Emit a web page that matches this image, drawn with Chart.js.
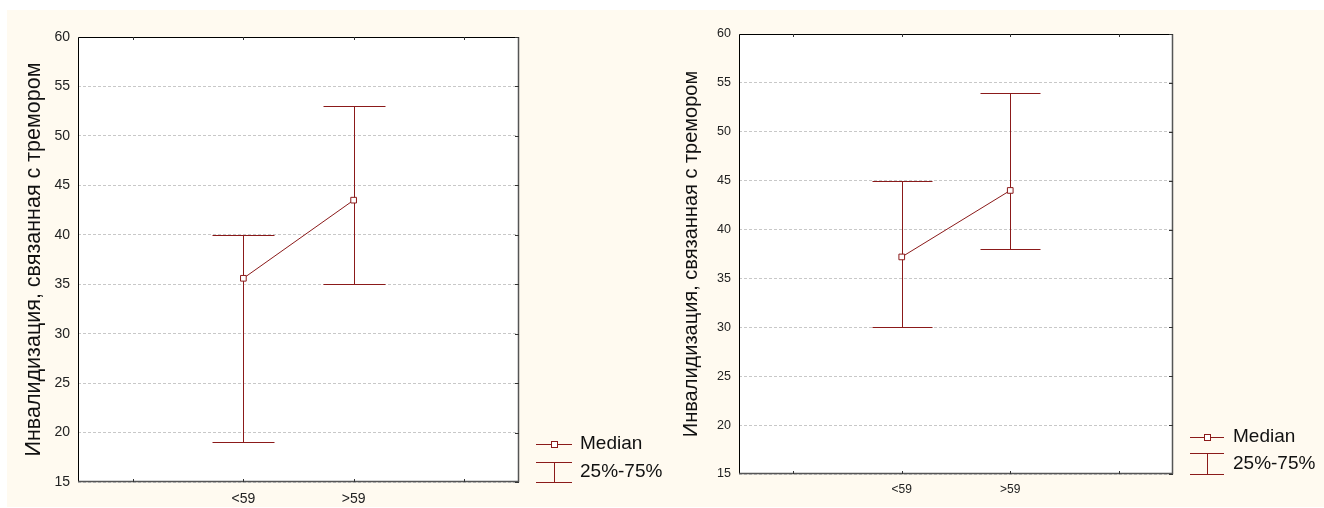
<!DOCTYPE html>
<html>
<head>
<meta charset="utf-8">
<script src="https://cdn.jsdelivr.net/npm/chart.js@4.4.0/dist/chart.umd.min.js"></script>
<style>
  body { margin: 0; background: #fff; width: 1324px; height: 508px; overflow: hidden; position: relative; }
  #bg { position: absolute; left: 7px; top: 10px; width: 1317px; height: 497px; background: #fffaf0; }
  canvas { position: absolute; top: 0; }
</style>
</head>
<body>
<div id="bg"></div>
<canvas id="c1" width="672" height="508" style="left:0"></canvas>
<canvas id="c2" width="652" height="508" style="left:672px"></canvas>
<script>
// categories (empty ones pad the axis like the original)
const groups = ["", "<59", ">59", ""];
const yTitle = "Инвалидизация, связанная с тремором";

// left chart
const medianA = [null, 35.6, 43.5, null];
const q25A = [null, 19, 35, null];
const q75A = [null, 40, 53, null];

// right chart
const medianB = [null, 37.2, 44, null];
const q25B = [null, 30, 38, null];
const q75B = [null, 45, 54, null];

const RED = "#8b1a1a";
const FONT = "'Liberation Sans', Arial, sans-serif";
Chart.defaults.font.family = FONT;

// white plot area
const plotBg = {
  id: "plotBg",
  beforeDraw(chart) {
    const { ctx, chartArea: a } = chart;
    ctx.save();
    ctx.fillStyle = "#fff";
    ctx.fillRect(a.left, a.top, a.right - a.left, a.bottom - a.top);
    ctx.restore();
  }
};

// frame, inward tick marks, quartile whiskers
const whiskers = {
  id: "whiskers",
  beforeDatasetsDraw(chart, args, opts) {
    const { ctx, chartArea: a, scales: { x, y } } = chart;
    ctx.save();
    // frame
    ctx.lineWidth = 1;
    ctx.strokeStyle = "#000";
    ctx.beginPath();
    ctx.moveTo(a.left + 0.5, a.bottom);
    ctx.lineTo(a.left + 0.5, a.top + 0.5);
    ctx.lineTo(a.right, a.top + 0.5);
    ctx.stroke();
    ctx.strokeStyle = "#555";
    ctx.lineWidth = 1.5;
    ctx.beginPath();
    ctx.moveTo(a.right - 0.5, a.top);
    ctx.lineTo(a.right - 0.5, a.bottom - 0.5);
    ctx.lineTo(a.left, a.bottom - 0.5);
    ctx.stroke();
    // tick marks
    ctx.lineWidth = 1;
    ctx.strokeStyle = "#333";
    ctx.beginPath();
    x.ticks.forEach((t, i) => {
      const px = Math.round(x.getPixelForTick(i)) + 0.5;
      ctx.moveTo(px, a.top); ctx.lineTo(px, a.top + 3);
      ctx.moveTo(px, a.bottom); ctx.lineTo(px, a.bottom - 3);
    });
    y.ticks.forEach((t, i) => {
      const py = Math.round(y.getPixelForTick(i)) + 0.5;
      ctx.moveTo(a.right, py); ctx.lineTo(a.right - 4, py);
    });
    ctx.stroke();
    // whiskers
    ctx.strokeStyle = RED;
    ctx.lineWidth = 1;
    opts.low.forEach((lo, i) => {
      const hi = opts.high[i];
      if (lo == null || hi == null) return;
      const px = Math.round(x.getPixelForValue(i)) + 0.5;
      const pLo = Math.round(y.getPixelForValue(lo)) + 0.5;
      const pHi = Math.round(y.getPixelForValue(hi)) + 0.5;
      ctx.beginPath();
      ctx.moveTo(px, pLo); ctx.lineTo(px, pHi);
      ctx.moveTo(px - opts.cap, pLo); ctx.lineTo(px + opts.cap, pLo);
      ctx.moveTo(px - opts.cap, pHi); ctx.lineTo(px + opts.cap, pHi);
      ctx.stroke();
    });
    ctx.restore();
  }
};

// legend drawn like the original (line + marker, whisker symbol)
const sideLegend = {
  id: "sideLegend",
  afterDraw(chart, args, o) {
    const ctx = chart.ctx;
    ctx.save();
    ctx.strokeStyle = RED;
    ctx.lineWidth = 1;
    const cx = o.x + o.w / 2;
    ctx.beginPath();
    ctx.moveTo(o.x, o.y1 + 0.5); ctx.lineTo(o.x + o.w, o.y1 + 0.5);
    ctx.stroke();
    ctx.fillStyle = "#fff";
    ctx.fillRect(cx - 3, o.y1 - 2.5, 6, 6);
    ctx.strokeRect(cx - 2.5, o.y1 - 2.5, 6, 6);
    ctx.beginPath();
    ctx.moveTo(o.x, o.y2a + 0.5); ctx.lineTo(o.x + o.w, o.y2a + 0.5);
    ctx.moveTo(o.x, o.y2b + 0.5); ctx.lineTo(o.x + o.w, o.y2b + 0.5);
    ctx.moveTo(cx + 0.5, o.y2a); ctx.lineTo(cx + 0.5, o.y2b);
    ctx.stroke();
    ctx.fillStyle = "#111";
    ctx.font = o.size + "px " + FONT;
    ctx.textBaseline = "middle";
    ctx.fillText("Median", o.tx, o.y1);
    ctx.fillText("25%-75%", o.tx, (o.y2a + o.y2b) / 2);
    ctx.restore();
  }
};

function makeChart(id, median, low, high, s) {
  return new Chart(document.getElementById(id), {
    type: "line",
    data: {
      labels: groups,
      datasets: [{
        data: median,
        borderColor: RED,
        borderWidth: 1,
        pointStyle: "rect",
        pointRadius: 4,
        pointBackgroundColor: "#fff",
        pointBorderColor: RED,
        pointBorderWidth: 1
      }]
    },
    options: {
      responsive: false,
      animation: false,
      layout: { padding: { top: s.top, right: s.right, bottom: 0, left: 0 } },
      plugins: {
        legend: { display: false },
        tooltip: { enabled: false },
        whiskers: { low, high, cap: s.cap },
        sideLegend: s.legend
      },
      scales: {
        x: {
          offset: true,
          grid: { display: false, drawTicks: false },
          border: { display: false },
          ticks: { font: { size: s.xFont }, color: "#222", padding: s.xPad, autoSkip: false, maxRotation: 0 },
          afterFit: sc => { sc.height = s.xHeight; }
        },
        y: {
          min: 15,
          max: 60,
          grid: { color: "#c8c8c8", drawTicks: false },
          border: { display: false, dash: [3, 2] },
          ticks: { stepSize: 5, font: { size: s.yFont }, color: "#222", padding: 8 },
          title: { display: true, text: yTitle, font: { size: s.tFont }, color: "#111", padding: { top: s.tPad, bottom: 0 } },
          afterFit: sc => { sc.width = s.yWidth; }
        }
      }
    },
    plugins: [plotBg, whiskers, sideLegend]
  });
}

makeChart("c1", medianA, q25A, q75A, {
  top: 37, right: 153, xHeight: 26, yWidth: 78, xFont: 14, yFont: 14, xPad: 9,
  tFont: 21.5, tPad: 21, cap: 31,
  legend: { x: 536, w: 36, y1: 444, y2a: 462, y2b: 482, tx: 580, size: 19 }
});

makeChart("c2", medianB, q25B, q75B, {
  top: 34, right: 151, xHeight: 34, yWidth: 67, xFont: 12, yFont: 12.5, xPad: 8,
  tFont: 20, tPad: 7, cap: 30,
  legend: { x: 518, w: 34, y1: 437, y2a: 453, y2b: 474, tx: 561, size: 19 }
});
</script>
</body>
</html>
